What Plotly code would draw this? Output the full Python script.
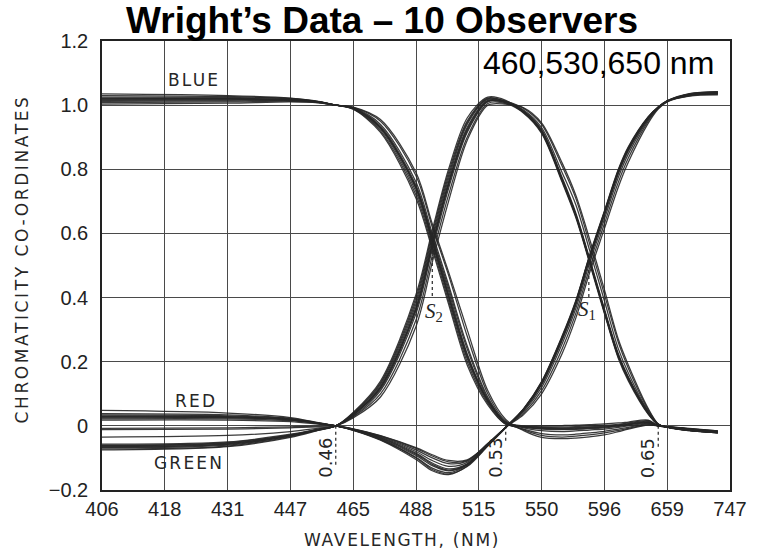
import numpy as np
import plotly.graph_objects as go

# Printed wavelength scale: tick wavelengths are evenly spaced on the axis
TICK_NM = [406, 418, 431, 447, 465, 488, 515, 550, 596, 659, 747]
TICK_POS = list(range(len(TICK_NM)))

# Sample wavelengths (nm) shared by every observer curve
WAVELENGTH = [406, 431, 447, 455, 460, 465, 475, 488, 495, 502, 510, 520, 530,
              540, 550, 565, 575, 585, 596, 610, 620, 640, 650, 659, 690, 730]

# Chromaticity co-ordinates of the ten observers (primaries 460, 530, 650 nm)
BLUE = [
    [1.035, 1.030, 1.022, 1.012, 1.0, 0.990, 0.930, 0.740, 0.580, 0.410, 0.220, 0.080, 0.010,
     -0.012, -0.030, -0.035, -0.032, -0.028, -0.022, -0.014, -0.008, 0.004, 0.0, -0.003, -0.012, -0.020],
    [1.030, 1.027, 1.021, 1.011, 1.0, 0.992, 0.940, 0.760, 0.600, 0.440, 0.250, 0.090, 0.010,
     -0.010, -0.024, -0.028, -0.026, -0.022, -0.017, -0.010, -0.005, 0.006, 0.0, -0.003, -0.011, -0.019],
    [1.025, 1.024, 1.020, 1.011, 1.0, 0.993, 0.950, 0.780, 0.620, 0.470, 0.280, 0.100, 0.015,
     -0.006, -0.015, -0.018, -0.016, -0.013, -0.010, -0.005, 0.000, 0.008, 0.0, -0.003, -0.010, -0.018],
    [1.022, 1.021, 1.018, 1.010, 1.0, 0.988, 0.920, 0.720, 0.560, 0.390, 0.200, 0.070, 0.005,
     -0.004, -0.010, -0.012, -0.011, -0.009, -0.006, -0.002, 0.003, 0.010, 0.0, -0.003, -0.010, -0.018],
    [1.020, 1.020, 1.018, 1.010, 1.0, 0.989, 0.925, 0.730, 0.570, 0.400, 0.210, 0.075, 0.010,
     -0.003, -0.007, -0.008, -0.007, -0.005, -0.003, 0.001, 0.005, 0.012, 0.0, -0.003, -0.010, -0.017],
    [1.018, 1.018, 1.017, 1.010, 1.0, 0.990, 0.930, 0.745, 0.585, 0.420, 0.225, 0.080, 0.010,
     -0.002, -0.005, -0.006, -0.005, -0.003, -0.001, 0.003, 0.007, 0.014, 0.0, -0.002, -0.009, -0.017],
    [1.015, 1.016, 1.015, 1.009, 1.0, 0.987, 0.915, 0.710, 0.550, 0.380, 0.190, 0.065, 0.005,
     -0.001, -0.003, -0.003, -0.002, 0.000, 0.002, 0.005, 0.009, 0.016, 0.0, -0.002, -0.009, -0.016],
    [1.012, 1.013, 1.014, 1.009, 1.0, 0.991, 0.935, 0.750, 0.590, 0.430, 0.240, 0.085, 0.012,
     0.000, 0.000, 0.001, 0.002, 0.004, 0.006, 0.009, 0.012, 0.018, 0.0, -0.002, -0.008, -0.016],
    [1.008, 1.010, 1.012, 1.008, 1.0, 0.990, 0.930, 0.740, 0.575, 0.405, 0.215, 0.078, 0.008,
     -0.003, -0.008, -0.010, -0.009, -0.007, -0.004, 0.000, 0.004, 0.011, 0.0, -0.003, -0.010, -0.018],
    [1.003, 1.006, 1.010, 1.007, 1.0, 0.994, 0.955, 0.790, 0.630, 0.480, 0.300, 0.110, 0.020,
     -0.015, -0.036, -0.040, -0.038, -0.034, -0.028, -0.018, -0.010, 0.002, 0.0, -0.004, -0.013, -0.022],
]

GREEN = [
    [-0.075, -0.065, -0.036, -0.014, 0, 0.035, 0.120, 0.370, 0.570, 0.760, 0.930, 1.015, 1.010,
     0.980, 0.920, 0.770, 0.660, 0.520, 0.360, 0.220, 0.150, 0.040, 0.004, -0.004, -0.014, -0.020],
    [-0.072, -0.063, -0.034, -0.013, 0, 0.038, 0.130, 0.390, 0.590, 0.780, 0.945, 1.020, 1.012,
     0.985, 0.930, 0.790, 0.690, 0.550, 0.390, 0.240, 0.165, 0.045, 0.005, -0.004, -0.014, -0.021],
    [-0.068, -0.060, -0.032, -0.013, 0, 0.030, 0.110, 0.350, 0.550, 0.740, 0.915, 1.010, 1.008,
     0.978, 0.915, 0.765, 0.655, 0.515, 0.355, 0.215, 0.145, 0.038, 0.004, -0.004, -0.013, -0.019],
    [-0.066, -0.058, -0.031, -0.012, 0, 0.040, 0.135, 0.400, 0.600, 0.790, 0.950, 1.022, 1.012,
     0.990, 0.940, 0.810, 0.710, 0.570, 0.410, 0.260, 0.180, 0.050, 0.006, -0.004, -0.015, -0.022],
    [-0.064, -0.056, -0.030, -0.012, 0, 0.033, 0.115, 0.360, 0.560, 0.750, 0.920, 1.012, 1.008,
     0.980, 0.918, 0.768, 0.658, 0.518, 0.358, 0.218, 0.148, 0.040, 0.004, -0.004, -0.013, -0.020],
    [-0.062, -0.054, -0.029, -0.011, 0, 0.028, 0.100, 0.330, 0.530, 0.720, 0.900, 1.005, 1.005,
     0.975, 0.912, 0.760, 0.650, 0.510, 0.350, 0.210, 0.140, 0.036, 0.004, -0.004, -0.012, -0.019],
    [-0.060, -0.052, -0.028, -0.011, 0, 0.036, 0.125, 0.380, 0.580, 0.770, 0.940, 1.018, 1.010,
     0.982, 0.924, 0.775, 0.665, 0.525, 0.365, 0.225, 0.153, 0.042, 0.005, -0.004, -0.014, -0.020],
    [-0.057, -0.050, -0.026, -0.010, 0, 0.025, 0.090, 0.310, 0.510, 0.700, 0.890, 1.000, 1.003,
     0.992, 0.945, 0.820, 0.720, 0.585, 0.425, 0.270, 0.190, 0.054, 0.006, -0.005, -0.015, -0.022],
    [-0.035, -0.030, -0.018, -0.007, 0, 0.034, 0.120, 0.365, 0.565, 0.755, 0.925, 1.013, 1.009,
     0.979, 0.919, 0.769, 0.659, 0.519, 0.359, 0.219, 0.149, 0.041, 0.004, -0.004, -0.013, -0.020],
    [-0.012, -0.010, -0.006, -0.003, 0, 0.042, 0.140, 0.410, 0.610, 0.800, 0.960, 1.025, 1.015,
     0.977, 0.916, 0.764, 0.654, 0.514, 0.354, 0.214, 0.146, 0.039, 0.004, -0.004, -0.014, -0.021],
]

RED = [
    [0.048, 0.040, 0.026, 0.010, 0, -0.014, -0.045, -0.105, -0.140, -0.152, -0.125, -0.062, -0.006,
     0.052, 0.135, 0.275, 0.385, 0.525, 0.665, 0.795, 0.865, 0.962, 0.994, 1.014, 1.036, 1.042],
    [0.038, 0.034, 0.023, 0.009, 0, -0.013, -0.042, -0.098, -0.132, -0.146, -0.122, -0.060, -0.005,
     0.050, 0.130, 0.270, 0.380, 0.520, 0.660, 0.790, 0.860, 0.960, 0.993, 1.013, 1.034, 1.040],
    [0.034, 0.031, 0.022, 0.009, 0, -0.012, -0.040, -0.092, -0.124, -0.140, -0.120, -0.060, -0.005,
     0.045, 0.120, 0.255, 0.365, 0.505, 0.645, 0.775, 0.848, 0.955, 0.992, 1.012, 1.031, 1.037],
    [0.031, 0.029, 0.021, 0.008, 0, -0.011, -0.037, -0.085, -0.116, -0.134, -0.118, -0.058, -0.005,
     0.040, 0.110, 0.240, 0.350, 0.490, 0.630, 0.760, 0.835, 0.950, 0.990, 1.011, 1.029, 1.034],
    [0.029, 0.028, 0.020, 0.008, 0, -0.011, -0.035, -0.080, -0.108, -0.126, -0.114, -0.056, -0.004,
     0.053, 0.137, 0.278, 0.388, 0.528, 0.668, 0.798, 0.868, 0.963, 0.994, 1.013, 1.034, 1.040],
    [0.027, 0.026, 0.019, 0.008, 0, -0.010, -0.033, -0.075, -0.100, -0.118, -0.110, -0.055, -0.004,
     0.054, 0.138, 0.280, 0.390, 0.530, 0.670, 0.800, 0.870, 0.964, 0.994, 1.013, 1.032, 1.038],
    [0.025, 0.025, 0.018, 0.007, 0, -0.010, -0.031, -0.070, -0.094, -0.112, -0.108, -0.056, -0.004,
     0.051, 0.133, 0.273, 0.383, 0.523, 0.663, 0.793, 0.863, 0.961, 0.993, 1.012, 1.031, 1.036],
    [0.022, 0.022, 0.016, 0.007, 0, -0.012, -0.038, -0.088, -0.120, -0.138, -0.121, -0.061, -0.005,
     0.035, 0.100, 0.225, 0.335, 0.475, 0.615, 0.745, 0.822, 0.944, 0.988, 1.010, 1.028, 1.032],
    [0.018, 0.018, 0.013, 0.005, 0, -0.013, -0.043, -0.100, -0.136, -0.150, -0.127, -0.063, -0.006,
     0.052, 0.134, 0.274, 0.384, 0.524, 0.664, 0.794, 0.864, 0.962, 0.993, 1.013, 1.035, 1.041],
    [-0.008, -0.006, -0.003, -0.001, 0, -0.009, -0.030, -0.068, -0.090, -0.108, -0.106, -0.057, -0.004,
     0.049, 0.128, 0.266, 0.376, 0.516, 0.656, 0.786, 0.857, 0.958, 0.992, 1.012, 1.030, 1.035],
]

Y_TICKS = [-0.2, 0, 0.2, 0.4, 0.6, 0.8, 1.0, 1.2]
Y_TICK_TEXT = ["\u22120.2", "0", "0.2", "0.4", "0.6", "0.8", "1.0", "1.2"]

# Primary wavelengths (µm labels) and where their guide lines stop
PRIMARY_NM = [460, 530, 650]
PRIMARY_TEXT = ["0.46", "0.53", "0.65"]
PRIMARY_DROP = [-0.13, -0.05, -0.065]

# Crossing points S2 and S1
S_NM = [495, 584.6]
S_VALUE = [0.565, 0.525]
S_TEXT = ["<i>S</i><sub>2</sub>", "<i>S</i><sub>1</sub>"]


def pos(nm):
    """Wavelength (nm) -> position on the printed wavelength scale."""
    return np.interp(nm, TICK_NM, TICK_POS)


INK = "#262626"
GRID = "#4a4a4a"
BOOK_FONT = "DejaVu Sans"

fig = go.Figure()

x_pos = pos(np.array(WAVELENGTH, dtype=float))
for group in (BLUE, GREEN, RED):
    for row in group:
        fig.add_trace(go.Scatter(
            x=x_pos, y=row, mode="lines",
            line=dict(color=INK, width=1.25, shape="spline", smoothing=0.9),
            opacity=0.9, hoverinfo="skip", showlegend=False,
        ))

shapes = []
for nm, drop in zip(PRIMARY_NM, PRIMARY_DROP):
    shapes.append(dict(type="line", xref="x", yref="y", x0=pos(nm), x1=pos(nm),
                       y0=0, y1=drop, line=dict(color=INK, width=1.2, dash="3px,3px")))
for nm, val in zip(S_NM, S_VALUE):
    shapes.append(dict(type="line", xref="x", yref="y", x0=pos(nm), x1=pos(nm),
                       y0=val - 0.02, y1=0.4, line=dict(color=INK, width=1.2, dash="3px,3px")))

annotations = []


def spaced(text, px):
    return f'<span style="letter-spacing:{px}px">{text}</span>'


def label(**kw):
    kw.setdefault("showarrow", False)
    kw.setdefault("xanchor", "center")
    kw.setdefault("yanchor", "middle")
    annotations.append(kw)


# Curve names
for text, nm, val in [("BLUE", 424, 1.078), ("RED", 424.5, 0.078), ("GREEN", 423, -0.117)]:
    label(x=pos(nm), y=val, xref="x", yref="y", text=spaced(text, 2.2),
          font=dict(family=BOOK_FONT, size=17, color=INK))

# Primary labels beside their guide lines
for nm, text in zip(PRIMARY_NM, PRIMARY_TEXT):
    label(x=pos(nm), y=-0.10, xref="x", yref="y", text=text, textangle=-90, xshift=-10,
          font=dict(family=BOOK_FONT, size=18, color=INK))

# S labels
for nm, text, val in zip([495.8, 583.6], S_TEXT, [0.355, 0.36]):
    label(x=pos(nm), y=val, xref="x", yref="y", text=text,
          font=dict(family="Liberation Serif", size=21, color=INK))

# Axis titles
label(x=0.478, y=-0.111, xref="paper", yref="paper",
      text=spaced("WAVELENGTH, (NM)", 1.7),
      font=dict(family=BOOK_FONT, size=17, color=INK))
label(x=-0.127, y=0.514, xref="paper", yref="paper",
      text=spaced("CHROMATICITY CO-ORDINATES", 2.6), textangle=-90,
      font=dict(family=BOOK_FONT, size=17, color=INK))

# Heading and primaries note
label(x=0.446, y=1.0, xref="paper", yref="paper", yshift=21,
      text="<b>Wright\u2019s Data \u2013 10 Observers</b>",
      font=dict(family="Liberation Sans", size=37, color="#000000"))
label(x=0.791, y=0.952, xref="paper", yref="paper",
      text="460,530,650 nm",
      font=dict(family="Liberation Sans", size=32, color="#000000"))

axis_common = dict(
    showgrid=True, gridcolor=GRID, gridwidth=1.1,
    showline=True, mirror=True, linecolor="#222222", linewidth=1.6,
    zeroline=False, ticks="",
    tickfont=dict(family="Liberation Sans", size=20, color="#222222"),
)

fig.update_layout(
    width=759, height=554,
    margin=dict(l=102, r=18, t=41, b=64),
    paper_bgcolor="white", plot_bgcolor="white",
    xaxis=dict(range=[0, 10], tickmode="array", tickvals=TICK_POS,
               ticktext=[str(v) for v in TICK_NM], ticklabelstandoff=0, **axis_common),
    yaxis=dict(range=[-0.2, 1.2], tickmode="array", tickvals=Y_TICKS,
               ticktext=Y_TICK_TEXT, ticklabelstandoff=8, **axis_common),
    shapes=shapes,
    annotations=annotations,
)

fig.write_html("out.html")
